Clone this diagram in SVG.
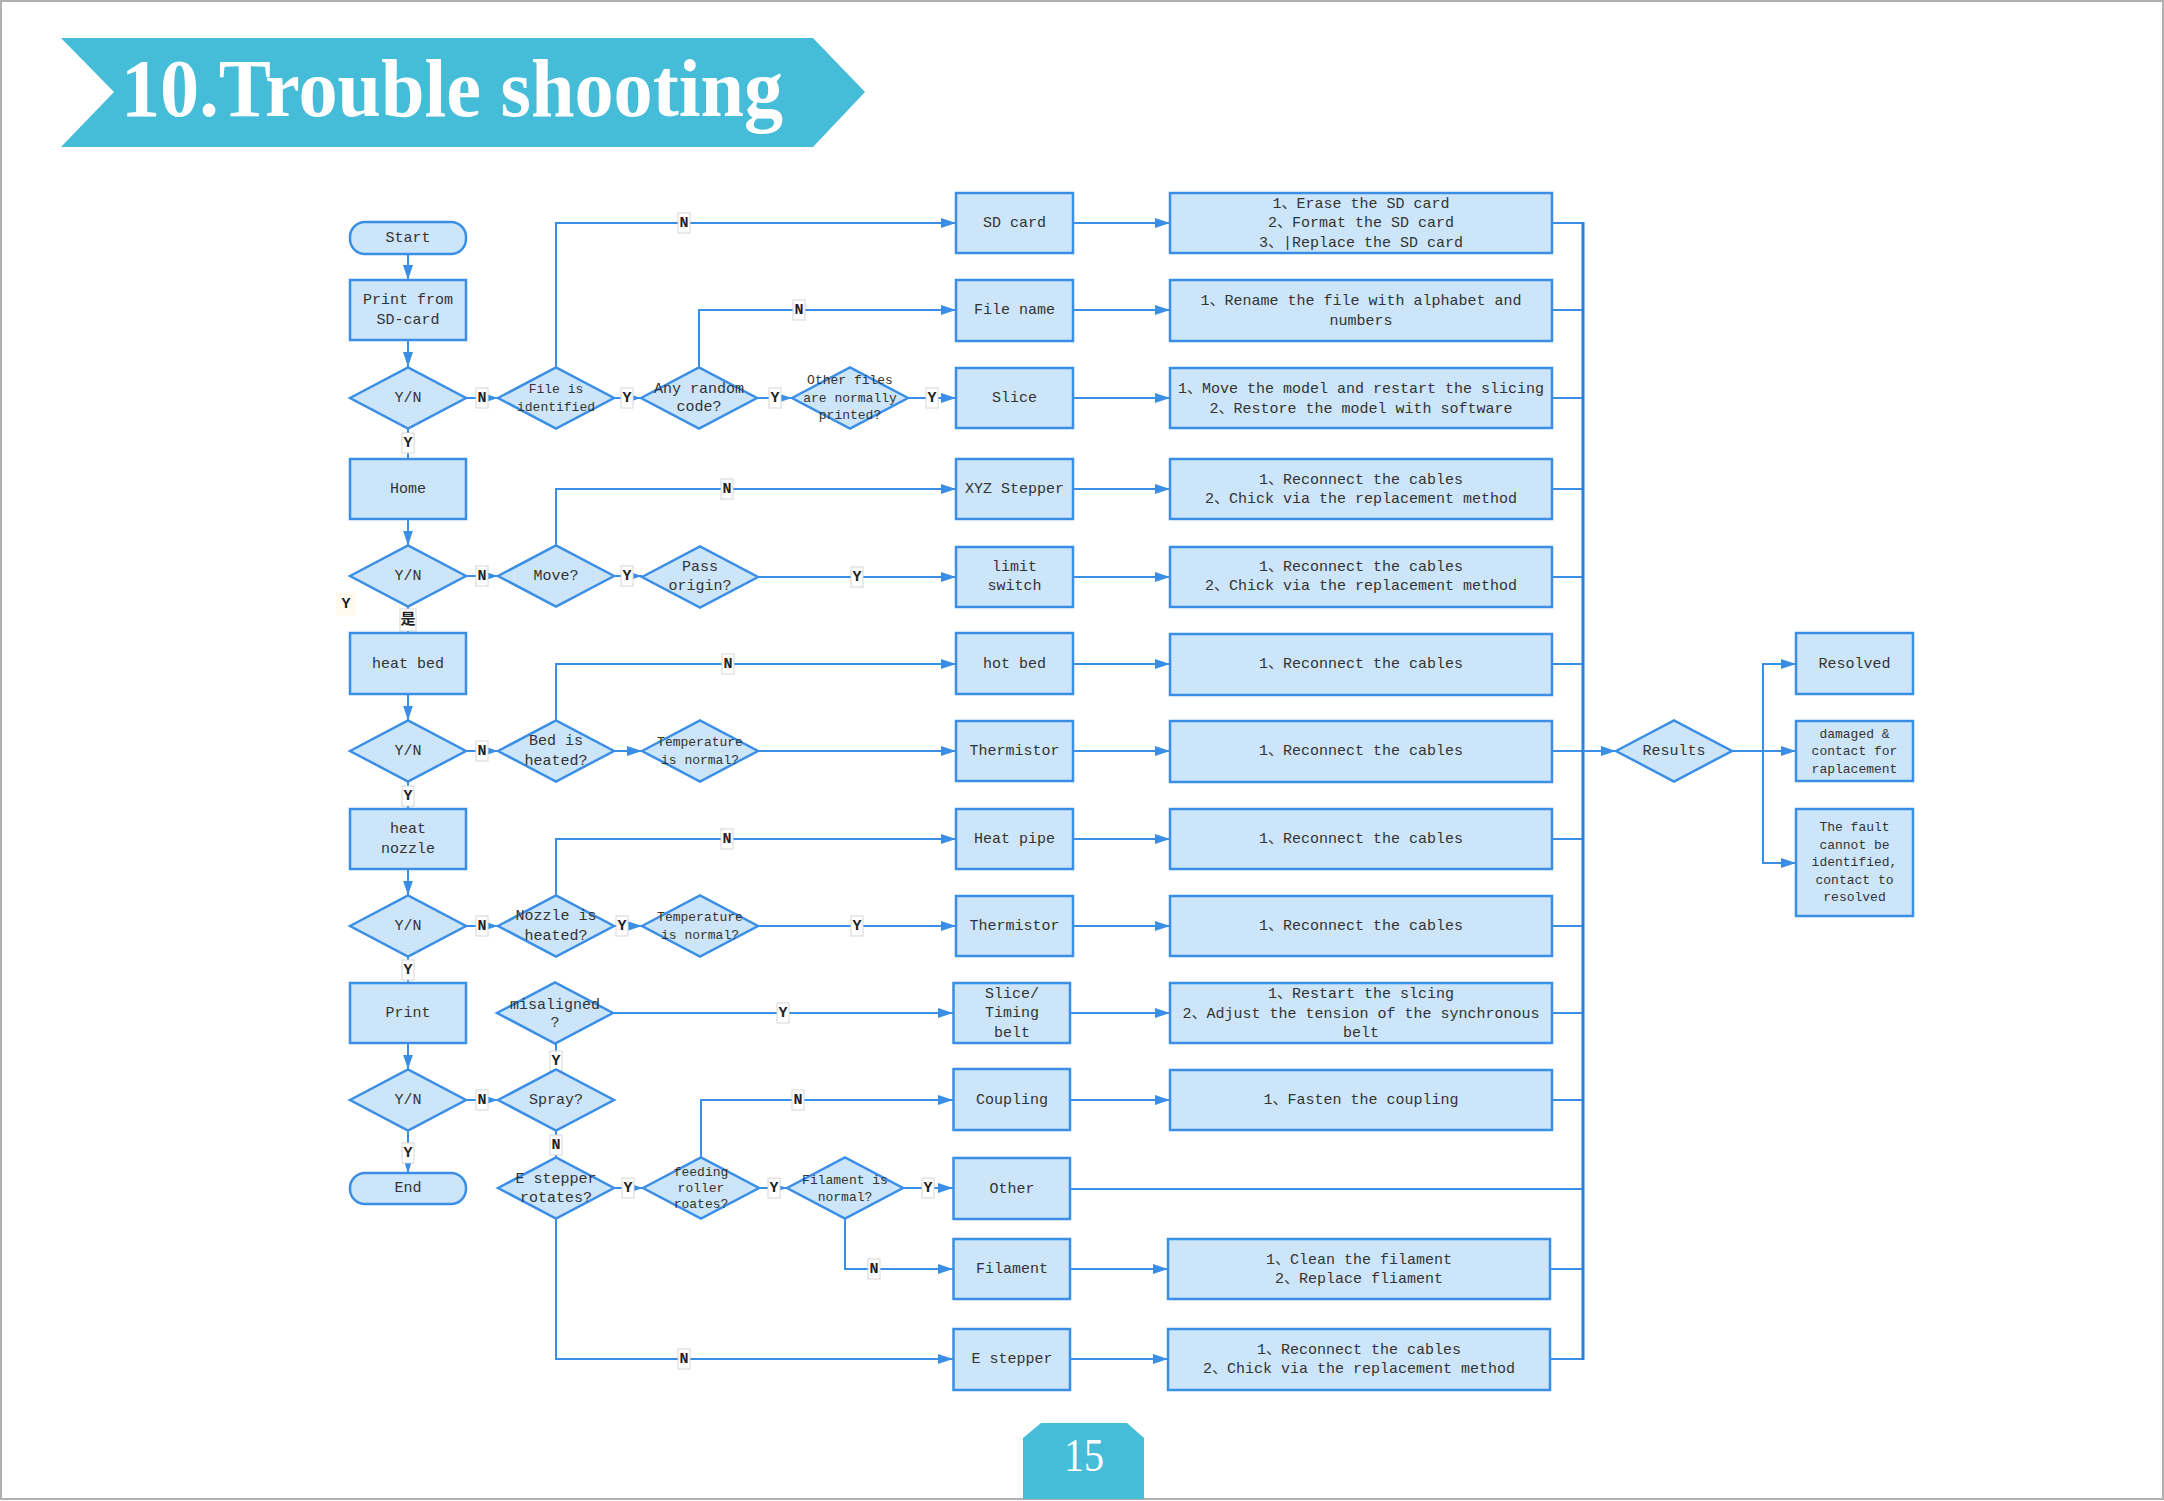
<svg xmlns="http://www.w3.org/2000/svg" xmlns:xlink="http://www.w3.org/1999/xlink" width="2164" height="1501" viewBox="0 0 2164 1501">
<style>
.box{fill:#CCE5F9;stroke:#3A8EE6;stroke-width:2.5}
.ln{fill:none;stroke:#3A8EE6;stroke-width:2}
.bus{fill:none;stroke:#2680E6;stroke-width:3}
.t{font-family:"Liberation Mono","Noto Sans CJK SC",monospace;font-size:15px;fill:#333;text-anchor:middle;dominant-baseline:central}
.s{font-size:13px}
.lr{fill:#fff;stroke:#d6d6d6;stroke-width:1}
.lt{font-family:"Liberation Mono","Noto Sans CJK SC",monospace;font-size:15px;font-weight:bold;fill:#222;text-anchor:middle;dominant-baseline:central}
</style>
<defs>
<marker id="ah" markerUnits="userSpaceOnUse" markerWidth="16" markerHeight="12" refX="15" refY="5" orient="auto"><path d="M0,0 L15,5 L0,10 z" fill="#3A8EE6"/></marker>
<polygon id="dia" points="-58,0 0,-30.5 58,0 0,30.5"/>
</defs>
<rect x="0" y="0" width="2164" height="1501" fill="#fff"/>
<rect x="1" y="1" width="2162" height="1498" fill="none" stroke="#b0b0b0" stroke-width="2"/>
<g id="title">
<polygon points="61,38 813,38 865,92 813,147 61,147 114,92" fill="#45BCD8"/>
<text x="121" y="116" font-family="Liberation Serif,serif" font-weight="bold" font-size="82" fill="#fff" textLength="662" lengthAdjust="spacingAndGlyphs">10.Trouble shooting</text>
</g>
<g id="page">
<polygon points="1023,1438 1041,1423 1127,1423 1144,1438 1144,1499 1023,1499" fill="#45BCD8"/>
<text x="1084" y="1471" font-family="Liberation Serif,serif" font-size="46" fill="#fff" text-anchor="middle" textLength="40" lengthAdjust="spacingAndGlyphs">15</text>
</g>

<g id="connectors">
<path class="ln" d="M408,254 V280" marker-end="url(#ah)"/>
<path class="ln" d="M408,340 V367" marker-end="url(#ah)"/>
<path class="ln" d="M408,428.5 V459"/>
<path class="ln" d="M408,519 V545.5" marker-end="url(#ah)"/>
<path class="ln" d="M408,606.5 V633"/>
<path class="ln" d="M408,694 V720.5" marker-end="url(#ah)"/>
<path class="ln" d="M408,781.5 V809"/>
<path class="ln" d="M408,869 V895.5" marker-end="url(#ah)"/>
<path class="ln" d="M408,956.5 V983"/>
<path class="ln" d="M408,1043 V1069.5" marker-end="url(#ah)"/>
<path class="ln" d="M408,1130.5 V1173" marker-end="url(#ah)"/>
<path class="ln" d="M466,398 H498" marker-end="url(#ah)"/>
<path class="ln" d="M614,398 H641" marker-end="url(#ah)"/>
<path class="ln" d="M757,398 H792" marker-end="url(#ah)"/>
<path class="ln" d="M908,398 H956" marker-end="url(#ah)"/>
<path class="ln" d="M556,367.5 V223 H956" marker-end="url(#ah)"/>
<path class="ln" d="M699,367.5 V310 H956" marker-end="url(#ah)"/>
<path class="ln" d="M466,576 H498" marker-end="url(#ah)"/>
<path class="ln" d="M614,576 H642" marker-end="url(#ah)"/>
<path class="ln" d="M556,545.5 V489 H956" marker-end="url(#ah)"/>
<path class="ln" d="M758,577 H956" marker-end="url(#ah)"/>
<path class="ln" d="M466,751 H498" marker-end="url(#ah)"/>
<path class="ln" d="M614,751 H642" marker-end="url(#ah)"/>
<path class="ln" d="M556,720.5 V664 H956" marker-end="url(#ah)"/>
<path class="ln" d="M758,751 H956" marker-end="url(#ah)"/>
<path class="ln" d="M466,926 H498" marker-end="url(#ah)"/>
<path class="ln" d="M614,926 H642" marker-end="url(#ah)"/>
<path class="ln" d="M556,895.5 V839 H956" marker-end="url(#ah)"/>
<path class="ln" d="M758,926 H956" marker-end="url(#ah)"/>
<path class="ln" d="M613,1013 H953" marker-end="url(#ah)"/>
<path class="ln" d="M556,1043.5 V1069.5"/>
<path class="ln" d="M466,1100 H498" marker-end="url(#ah)"/>
<path class="ln" d="M556,1130.5 V1157.5"/>
<path class="ln" d="M614,1188 H643" marker-end="url(#ah)"/>
<path class="ln" d="M759,1188 H787" marker-end="url(#ah)"/>
<path class="ln" d="M903,1188 H953" marker-end="url(#ah)"/>
<path class="ln" d="M701,1157.5 V1100 H953" marker-end="url(#ah)"/>
<path class="ln" d="M845,1218.5 V1269 H953" marker-end="url(#ah)"/>
<path class="ln" d="M556,1218.5 V1359 H953" marker-end="url(#ah)"/>
<path class="ln" d="M1073,223 H1170" marker-end="url(#ah)"/>
<path class="ln" d="M1073,310 H1170" marker-end="url(#ah)"/>
<path class="ln" d="M1073,398 H1170" marker-end="url(#ah)"/>
<path class="ln" d="M1073,489 H1170" marker-end="url(#ah)"/>
<path class="ln" d="M1073,577 H1170" marker-end="url(#ah)"/>
<path class="ln" d="M1073,664 H1170" marker-end="url(#ah)"/>
<path class="ln" d="M1073,751 H1170" marker-end="url(#ah)"/>
<path class="ln" d="M1073,839 H1170" marker-end="url(#ah)"/>
<path class="ln" d="M1073,926 H1170" marker-end="url(#ah)"/>
<path class="ln" d="M1070,1013 H1170" marker-end="url(#ah)"/>
<path class="ln" d="M1070,1100 H1170" marker-end="url(#ah)"/>
<path class="ln" d="M1070,1269 H1168" marker-end="url(#ah)"/>
<path class="ln" d="M1070,1359 H1168" marker-end="url(#ah)"/>
<path class="ln" d="M1552,223 H1583 M1552,310 H1583 M1552,398 H1583 M1552,489 H1583 M1552,577 H1583 M1552,664 H1583 M1552,751 H1583 M1552,839 H1583 M1552,926 H1583 M1552,1013 H1583 M1552,1100 H1583 M1070,1189 H1583 M1550,1269 H1583 M1550,1359 H1583"/>
<path class="bus" d="M1583,222 V1360"/>
<path class="ln" d="M1583,751 H1616" marker-end="url(#ah)"/>
<path class="ln" d="M1732,751 H1796" marker-end="url(#ah)"/>
<path class="ln" d="M1763,751 V664 H1796" marker-end="url(#ah)"/>
<path class="ln" d="M1763,751 V863 H1796" marker-end="url(#ah)"/>
</g>

<g id="labels">
<g><rect class="lr" x="402" y="433" width="12" height="20"/><text class="lt" x="408" y="443">Y</text></g>
<rect x="336" y="592" width="20" height="24" fill="#fffbee"/><text class="lt" x="346" y="604">Y</text>
<g><rect class="lr" x="400" y="609" width="16" height="22"/><text class="lt" x="408" y="620" font-size="14">是</text></g>
<g><rect class="lr" x="402" y="786" width="12" height="20"/><text class="lt" x="408" y="796">Y</text></g>
<g><rect class="lr" x="402" y="960" width="12" height="20"/><text class="lt" x="408" y="970">Y</text></g>
<g><rect class="lr" x="402" y="1143" width="12" height="20"/><text class="lt" x="408" y="1153">Y</text></g>
<g><rect class="lr" x="550" y="1051" width="12" height="20"/><text class="lt" x="556" y="1061">Y</text></g>
<g><rect class="lr" x="550" y="1135" width="12" height="20"/><text class="lt" x="556" y="1145">N</text></g>
<g><rect class="lr" x="476" y="388" width="12" height="20"/><text class="lt" x="482" y="398">N</text></g>
<g><rect class="lr" x="621" y="388" width="12" height="20"/><text class="lt" x="627" y="398">Y</text></g>
<g><rect class="lr" x="769" y="388" width="12" height="20"/><text class="lt" x="775" y="398">Y</text></g>
<g><rect class="lr" x="926" y="388" width="12" height="20"/><text class="lt" x="932" y="398">Y</text></g>
<g><rect class="lr" x="678" y="213" width="12" height="20"/><text class="lt" x="684" y="223">N</text></g>
<g><rect class="lr" x="793" y="300" width="12" height="20"/><text class="lt" x="799" y="310">N</text></g>
<g><rect class="lr" x="476" y="566" width="12" height="20"/><text class="lt" x="482" y="576">N</text></g>
<g><rect class="lr" x="621" y="566" width="12" height="20"/><text class="lt" x="627" y="576">Y</text></g>
<g><rect class="lr" x="721" y="479" width="12" height="20"/><text class="lt" x="727" y="489">N</text></g>
<g><rect class="lr" x="851" y="567" width="12" height="20"/><text class="lt" x="857" y="577">Y</text></g>
<g><rect class="lr" x="476" y="741" width="12" height="20"/><text class="lt" x="482" y="751">N</text></g>
<g><rect class="lr" x="722" y="654" width="12" height="20"/><text class="lt" x="728" y="664">N</text></g>
<g><rect class="lr" x="476" y="916" width="12" height="20"/><text class="lt" x="482" y="926">N</text></g>
<g><rect class="lr" x="616" y="916" width="12" height="20"/><text class="lt" x="622" y="926">Y</text></g>
<g><rect class="lr" x="721" y="829" width="12" height="20"/><text class="lt" x="727" y="839">N</text></g>
<g><rect class="lr" x="851" y="916" width="12" height="20"/><text class="lt" x="857" y="926">Y</text></g>
<g><rect class="lr" x="777" y="1003" width="12" height="20"/><text class="lt" x="783" y="1013">Y</text></g>
<g><rect class="lr" x="476" y="1090" width="12" height="20"/><text class="lt" x="482" y="1100">N</text></g>
<g><rect class="lr" x="792" y="1090" width="12" height="20"/><text class="lt" x="798" y="1100">N</text></g>
<g><rect class="lr" x="622" y="1178" width="12" height="20"/><text class="lt" x="628" y="1188">Y</text></g>
<g><rect class="lr" x="768" y="1178" width="12" height="20"/><text class="lt" x="774" y="1188">Y</text></g>
<g><rect class="lr" x="922" y="1178" width="12" height="20"/><text class="lt" x="928" y="1188">Y</text></g>
<g><rect class="lr" x="868" y="1259" width="12" height="20"/><text class="lt" x="874" y="1269">N</text></g>
<g><rect class="lr" x="678" y="1349" width="12" height="20"/><text class="lt" x="684" y="1359">N</text></g>
</g>

<g id="n-start"><rect class="box" x="350" y="222" width="116" height="32" rx="15"/><text class="t" x="408" y="238">Start</text></g>
<g id="n-print-sd"><rect class="box" x="350" y="280" width="116" height="60"/><text class="t" x="408" y="300.5">Print from</text><text class="t" x="408" y="320">SD-card</text></g>
<g id="n-yn1"><use href="#dia" class="box" x="408" y="398"/><text class="t" x="408" y="398">Y/N</text></g>
<g id="n-home"><rect class="box" x="350" y="459" width="116" height="60"/><text class="t" x="408" y="489">Home</text></g>
<g id="n-yn2"><use href="#dia" class="box" x="408" y="576"/><text class="t" x="408" y="576">Y/N</text></g>
<g id="n-heatbed"><rect class="box" x="350" y="633" width="116" height="61"/><text class="t" x="408" y="664">heat bed</text></g>
<g id="n-yn3"><use href="#dia" class="box" x="408" y="751"/><text class="t" x="408" y="751">Y/N</text></g>
<g id="n-heatnozzle"><rect class="box" x="350" y="809" width="116" height="60"/><text class="t" x="408" y="829">heat</text><text class="t" x="408" y="849">nozzle</text></g>
<g id="n-yn4"><use href="#dia" class="box" x="408" y="926"/><text class="t" x="408" y="926">Y/N</text></g>
<g id="n-print"><rect class="box" x="350" y="983" width="116" height="60"/><text class="t" x="408" y="1013">Print</text></g>
<g id="n-yn5"><use href="#dia" class="box" x="408" y="1100"/><text class="t" x="408" y="1100">Y/N</text></g>
<g id="n-end"><rect class="box" x="350" y="1173" width="116" height="31" rx="15"/><text class="t" x="408" y="1188.5">End</text></g>

<g id="n-fileid"><use href="#dia" class="box" x="556" y="398"/><text class="t s" x="556" y="389">File is</text><text class="t s" x="556" y="407">identified</text></g>
<g id="n-random"><use href="#dia" class="box" x="699" y="398"/><text class="t" x="699" y="389">Any random</text><text class="t" x="699" y="407">code?</text></g>
<g id="n-otherfiles"><use href="#dia" class="box" x="850" y="398"/><text class="t s" x="850" y="380.5">Other files</text><text class="t s" x="850" y="398">are normally</text><text class="t s" x="850" y="415.5">printed?</text></g>
<g id="n-move"><use href="#dia" class="box" x="556" y="576"/><text class="t" x="556" y="576">Move?</text></g>
<g id="n-pass"><use href="#dia" class="box" x="700" y="577"/><text class="t" x="700" y="567">Pass</text><text class="t" x="700" y="586">origin?</text></g>
<g id="n-bed"><use href="#dia" class="box" x="556" y="751"/><text class="t" x="556" y="741">Bed is</text><text class="t" x="556" y="761">heated?</text></g>
<g id="n-temp1"><use href="#dia" class="box" x="700" y="751"/><text class="t s" x="700" y="742">Temperature</text><text class="t s" x="700" y="760">is normal?</text></g>
<g id="n-nozzle"><use href="#dia" class="box" x="556" y="926"/><text class="t" x="556" y="916">Nozzle is</text><text class="t" x="556" y="936">heated?</text></g>
<g id="n-temp2"><use href="#dia" class="box" x="700" y="926"/><text class="t s" x="700" y="917">Temperature</text><text class="t s" x="700" y="935">is normal?</text></g>
<g id="n-misaligned"><use href="#dia" class="box" x="555" y="1013"/><text class="t" x="555" y="1005">misaligned</text><text class="t" x="555" y="1023">?</text></g>
<g id="n-spray"><use href="#dia" class="box" x="556" y="1100"/><text class="t" x="556" y="1100">Spray?</text></g>
<g id="n-erot"><use href="#dia" class="box" x="556" y="1188"/><text class="t" x="556" y="1179">E stepper</text><text class="t" x="556" y="1198">rotates?</text></g>
<g id="n-feeding"><use href="#dia" class="box" x="701" y="1188"/><text class="t s" x="701" y="1172">feeding</text><text class="t s" x="701" y="1188">roller</text><text class="t s" x="701" y="1204">roates?</text></g>
<g id="n-filnormal"><use href="#dia" class="box" x="845" y="1188"/><text class="t s" x="845" y="1180">Filament is</text><text class="t s" x="845" y="1197">normal?</text></g>

<g id="n-sdcard"><rect class="box" x="956" y="193" width="117" height="60"/><text class="t" x="1014.5" y="223">SD card</text></g>
<g id="n-filename"><rect class="box" x="956" y="280" width="117" height="61"/><text class="t" x="1014.5" y="310">File name</text></g>
<g id="n-slice"><rect class="box" x="956" y="368" width="117" height="60"/><text class="t" x="1014.5" y="398">Slice</text></g>
<g id="n-xyz"><rect class="box" x="956" y="459" width="117" height="60"/><text class="t" x="1014.5" y="489">XYZ Stepper</text></g>
<g id="n-limit"><rect class="box" x="956" y="547" width="117" height="60"/><text class="t" x="1014.5" y="567">limit</text><text class="t" x="1014.5" y="586.5">switch</text></g>
<g id="n-hotbed"><rect class="box" x="956" y="633" width="117" height="61"/><text class="t" x="1014.5" y="664">hot bed</text></g>
<g id="n-therm1"><rect class="box" x="956" y="721" width="117" height="60"/><text class="t" x="1014.5" y="751">Thermistor</text></g>
<g id="n-heatpipe"><rect class="box" x="956" y="809" width="117" height="60"/><text class="t" x="1014.5" y="839">Heat pipe</text></g>
<g id="n-therm2"><rect class="box" x="956" y="896" width="117" height="60"/><text class="t" x="1014.5" y="926">Thermistor</text></g>
<g id="n-timing"><rect class="box" x="953.5" y="983" width="116.5" height="60"/><text class="t" x="1012" y="994">Slice/</text><text class="t" x="1012" y="1013.5">Timing</text><text class="t" x="1012" y="1033">belt</text></g>
<g id="n-coupling"><rect class="box" x="953.5" y="1069" width="116.5" height="61"/><text class="t" x="1012" y="1100">Coupling</text></g>
<g id="n-other"><rect class="box" x="953.5" y="1158" width="116.5" height="61"/><text class="t" x="1012" y="1189">Other</text></g>
<g id="n-filament"><rect class="box" x="953.5" y="1239" width="116.5" height="60"/><text class="t" x="1012" y="1269">Filament</text></g>
<g id="n-estepper"><rect class="box" x="953.5" y="1329" width="116.5" height="61"/><text class="t" x="1012" y="1359">E stepper</text></g>

<g id="s-sdcard"><rect class="box" x="1170" y="193" width="382" height="60"/><text class="t" x="1361" y="204">1、Erase the SD card</text><text class="t" x="1361" y="223">2、Format the SD card</text><text class="t" x="1361" y="243">3、|Replace the SD card</text></g>
<g id="s-filename"><rect class="box" x="1170" y="280" width="382" height="61"/><text class="t" x="1361" y="301">1、Rename the file with alphabet and</text><text class="t" x="1361" y="321">numbers</text></g>
<g id="s-slice"><rect class="box" x="1170" y="368" width="382" height="60"/><text class="t" x="1361" y="389">1、Move the model and restart the slicing</text><text class="t" x="1361" y="409">2、Restore the model with software</text></g>
<g id="s-xyz"><rect class="box" x="1170" y="459" width="382" height="60"/><text class="t" x="1361" y="480">1、Reconnect the cables</text><text class="t" x="1361" y="499.5">2、Chick via the replacement method</text></g>
<g id="s-limit"><rect class="box" x="1170" y="547" width="382" height="60"/><text class="t" x="1361" y="567">1、Reconnect the cables</text><text class="t" x="1361" y="586.5">2、Chick via the replacement method</text></g>
<g id="s-hotbed"><rect class="box" x="1170" y="634" width="382" height="61"/><text class="t" x="1361" y="664">1、Reconnect the cables</text></g>
<g id="s-therm1"><rect class="box" x="1170" y="721" width="382" height="61"/><text class="t" x="1361" y="751">1、Reconnect the cables</text></g>
<g id="s-heatpipe"><rect class="box" x="1170" y="809" width="382" height="60"/><text class="t" x="1361" y="839">1、Reconnect the cables</text></g>
<g id="s-therm2"><rect class="box" x="1170" y="896" width="382" height="60"/><text class="t" x="1361" y="926">1、Reconnect the cables</text></g>
<g id="s-timing"><rect class="box" x="1170" y="983" width="382" height="60"/><text class="t" x="1361" y="994">1、Restart the slcing</text><text class="t" x="1361" y="1014">2、Adjust the tension of the synchronous</text><text class="t" x="1361" y="1033">belt</text></g>
<g id="s-coupling"><rect class="box" x="1170" y="1070" width="382" height="60"/><text class="t" x="1361" y="1100">1、Fasten the coupling</text></g>
<g id="s-filament"><rect class="box" x="1168" y="1239" width="382" height="60"/><text class="t" x="1359" y="1260">1、Clean the filament</text><text class="t" x="1359" y="1279">2、Replace fliament</text></g>
<g id="s-estepper"><rect class="box" x="1168" y="1329" width="382" height="61"/><text class="t" x="1359" y="1350">1、Reconnect the cables</text><text class="t" x="1359" y="1369.5">2、Chick via the replacement method</text></g>

<g id="n-results"><use href="#dia" class="box" x="1674" y="751"/><text class="t" x="1674" y="751">Results</text></g>
<g id="n-resolved"><rect class="box" x="1796" y="633" width="117" height="61"/><text class="t" x="1854.5" y="664">Resolved</text></g>
<g id="n-damaged"><rect class="box" x="1796" y="721" width="117" height="60"/><text class="t s" x="1854.5" y="734">damaged &amp;</text><text class="t s" x="1854.5" y="751.5">contact for</text><text class="t s" x="1854.5" y="769">raplacement</text></g>
<g id="n-fault"><rect class="box" x="1796" y="809" width="117" height="107"/><text class="t s" x="1854.5" y="827">The fault</text><text class="t s" x="1854.5" y="845">cannot be</text><text class="t s" x="1854.5" y="862.5">identified,</text><text class="t s" x="1854.5" y="880">contact to</text><text class="t s" x="1854.5" y="897">resolved</text></g>
</svg>
